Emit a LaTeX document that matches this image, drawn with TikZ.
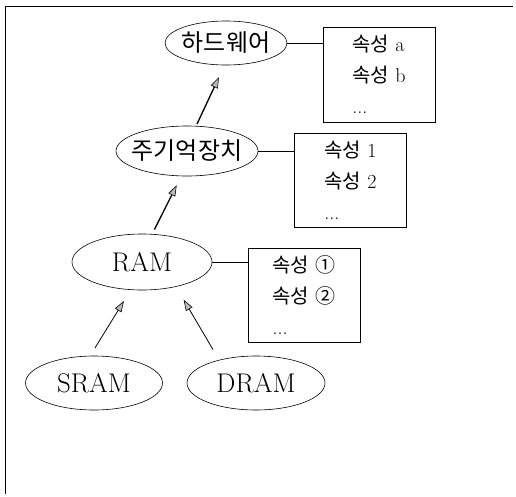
\documentclass[tikz,border=0pt]{standalone}
\usepackage{fontspec}
\newfontfamily\kr{Noto Sans CJK KR}
\usetikzlibrary{shapes.geometric,arrows.meta}

\newcommand{\prop}[1]{{\kr 속성}\ #1}

\begin{document}
\begin{tikzpicture}[x=1pt, y=-1pt,
    cls/.style={draw, ellipse, inner sep=0pt, line width=0.6pt, font=\fontsize{27}{30}\selectfont},
    krcls/.style={cls, font=\kr\fontsize{24}{26}\selectfont},
    attrs/.style={draw, rectangle, line width=0.8pt, minimum width=112pt, minimum height=95pt,
        align=left, font=\fontsize{20}{31}\selectfont},
    isa/.style={-{Triangle[length=11pt, width=7.5pt, fill=gray!55, line width=0.6pt]}},
    ]
    \useasboundingbox (0,0) rectangle (516,496);
    \draw[line width=0.8pt] (5,494) -- (5,6) -- (513,6);

    \node[krcls, inner xsep=-2pt, minimum width=122pt, minimum height=44pt] (hw) at (226,43) {하드웨어};
    \node[krcls, inner xsep=-5pt, minimum width=140pt, minimum height=50pt] (mem) at (187,151) {주기억장치};
    \node[cls, minimum width=140pt, minimum height=56pt] (ram) at (142,262) {RAM};
    \node[cls, minimum width=137pt, minimum height=54pt] (sram) at (94,383) {SRAM};
    \node[cls, minimum width=138pt, minimum height=54pt] (dram) at (256,383) {DRAM};

    \node[attrs] (hwattr) at (379,74.5) {\prop{a}\\\prop{b}\\...};
    \node[attrs, minimum height=94pt] (memattr) at (350.5,180) {\prop{1}\\\prop{2}\\...};
    \node[attrs, minimum height=94pt] (ramattr) at (304,295) {\prop{{\kr ①}}\\\prop{{\kr ②}}\\...};

    \draw[line width=0.9pt] (hw.east) -- (hw.east -| hwattr.west);
    \draw[line width=0.9pt] (mem.east) -- (mem.east -| memattr.west);
    \draw[line width=0.9pt] (ram.east) -- (ram.east -| ramattr.west);

    \draw[isa, line width=1.3pt, shorten <=2pt, shorten >=13pt] (mem.70) to (hw.266);
    \draw[isa, line width=1.3pt, shorten <=5pt, shorten >=10pt] (ram.70) to (mem.257);
    \draw[isa, line width=0.8pt, shorten <=9pt, shorten >=13pt] (sram.98) to (ram.248);
    \draw[isa, line width=0.8pt, shorten <=12pt, shorten >=15pt] (dram.148) to (ram.-36);
\end{tikzpicture}
\end{document}
